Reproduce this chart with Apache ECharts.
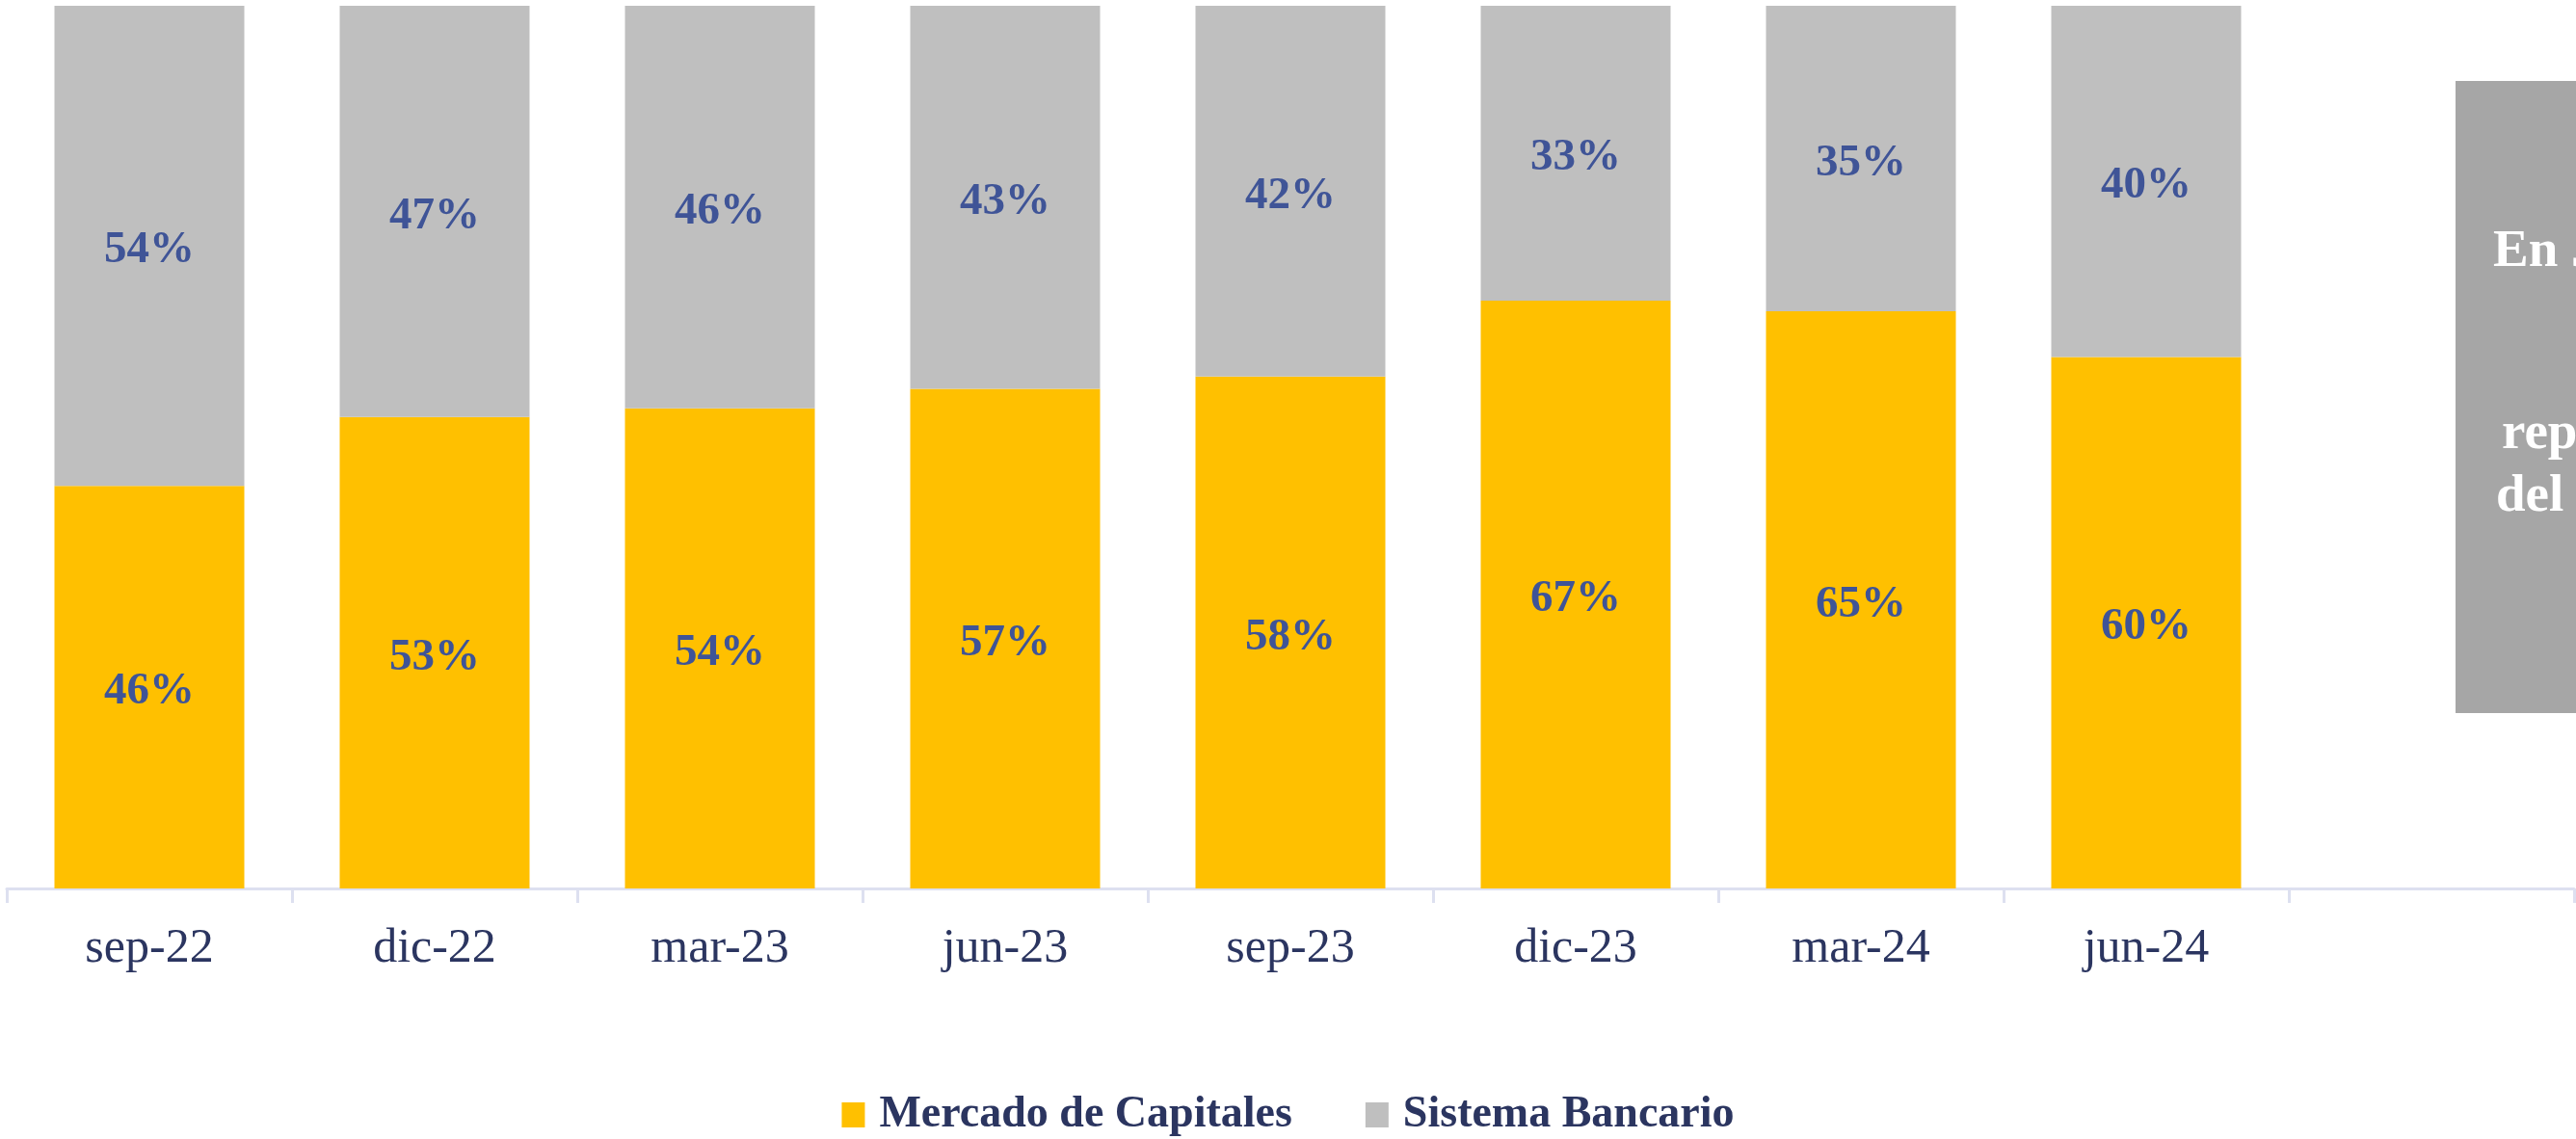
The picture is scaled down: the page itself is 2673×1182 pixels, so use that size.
<!DOCTYPE html>
<html>
<head>
<meta charset="utf-8">
<script src="https://cdn.jsdelivr.net/npm/echarts@6/dist/echarts.min.js"></script>
<style>
  html, body { margin: 0; padding: 0; background: #fff; }
  #main { width: 2673px; height: 1182px; }
</style>
</head>
<body>
<div id="main"></div>
<script>
// 資料
var categories = ['sep-22', 'dic-22', 'mar-23', 'jun-23', 'sep-23', 'dic-23', 'mar-24', 'jun-24', ''];
var mercadoCapitales = [45.6, 53.4, 54.4, 56.6, 58.0, 66.6, 65.4, 60.2, null];
var sistemaBancario = [54.4, 46.6, 45.6, 43.4, 42.0, 33.4, 34.6, 39.8, null];
var seriesNames = ['Mercado de Capitales', 'Sistema Bancario'];
var boxLines = ['En Junio 2024, el', 'representó el 60%', 'del financiamiento'];

var chart = echarts.init(document.getElementById('main'));

var fontFamily = '"Liberation Serif", serif';

var barLabel = {
    show: true,
    position: 'inside',
    offset: [0, 5],
    formatter: function (p) {
        return p.value == null ? '' : Math.round(p.value) + '%';
    },
    fontFamily: fontFamily,
    fontWeight: 'bold',
    fontSize: 47,
    color: '#3F5497'
};

var option = {
    backgroundColor: '#fff',
    animation: false,
    grid: {
        left: 7,
        right: 2,
        top: 6,
        bottom: 260
    },
    legend: {
        data: seriesNames,
        left: 'center',
        top: 1129,
        itemWidth: 24,
        itemHeight: 26,
        itemGap: 76,
        icon: 'rect',
        textStyle: {
            fontFamily: fontFamily,
            fontWeight: 'bold',
            fontSize: 46,
            color: '#2B3560',
            padding: [0, 0, 0, 10]
        }
    },
    xAxis: {
        type: 'category',
        data: categories,
        axisLine: {
            lineStyle: { color: '#DDE0F0', width: 3 }
        },
        axisTick: {
            show: true,
            length: 15,
            interval: 0,
            lineStyle: { color: '#DDE0F0', width: 3 }
        },
        axisLabel: {
            interval: 0,
            margin: 38,
            fontFamily: fontFamily,
            fontSize: 50,
            color: '#2B3560'
        }
    },
    yAxis: {
        type: 'value',
        min: 0,
        max: 100,
        show: false,
        splitLine: { show: false }
    },
    series: [{
        name: seriesNames[0],
        type: 'bar',
        stack: 'total',
        data: mercadoCapitales,
        barWidth: 197,
        itemStyle: { color: '#FFC000' },
        label: barLabel
    }, {
        name: seriesNames[1],
        type: 'bar',
        stack: 'total',
        data: sistemaBancario,
        barWidth: 197,
        itemStyle: { color: '#BFBFBF' },
        label: barLabel
    }],
    graphic: [{
        type: 'rect',
        left: 2548,
        top: 84,
        shape: { width: 300, height: 656 },
        style: { fill: '#A6A6A6' }
    }, {
        type: 'text',
        left: 2587,
        top: 234,
        style: {
            text: boxLines[0],
            font: 'bold 55px "Liberation Serif", serif',
            fill: '#fff'
        }
    }, {
        type: 'text',
        left: 2596,
        top: 423,
        style: {
            text: boxLines[1],
            font: 'bold 55px "Liberation Serif", serif',
            fill: '#fff'
        }
    }, {
        type: 'text',
        left: 2590,
        top: 488,
        style: {
            text: boxLines[2],
            font: 'bold 55px "Liberation Serif", serif',
            fill: '#fff'
        }
    }]
};

chart.setOption(option);
</script>
</body>
</html>
